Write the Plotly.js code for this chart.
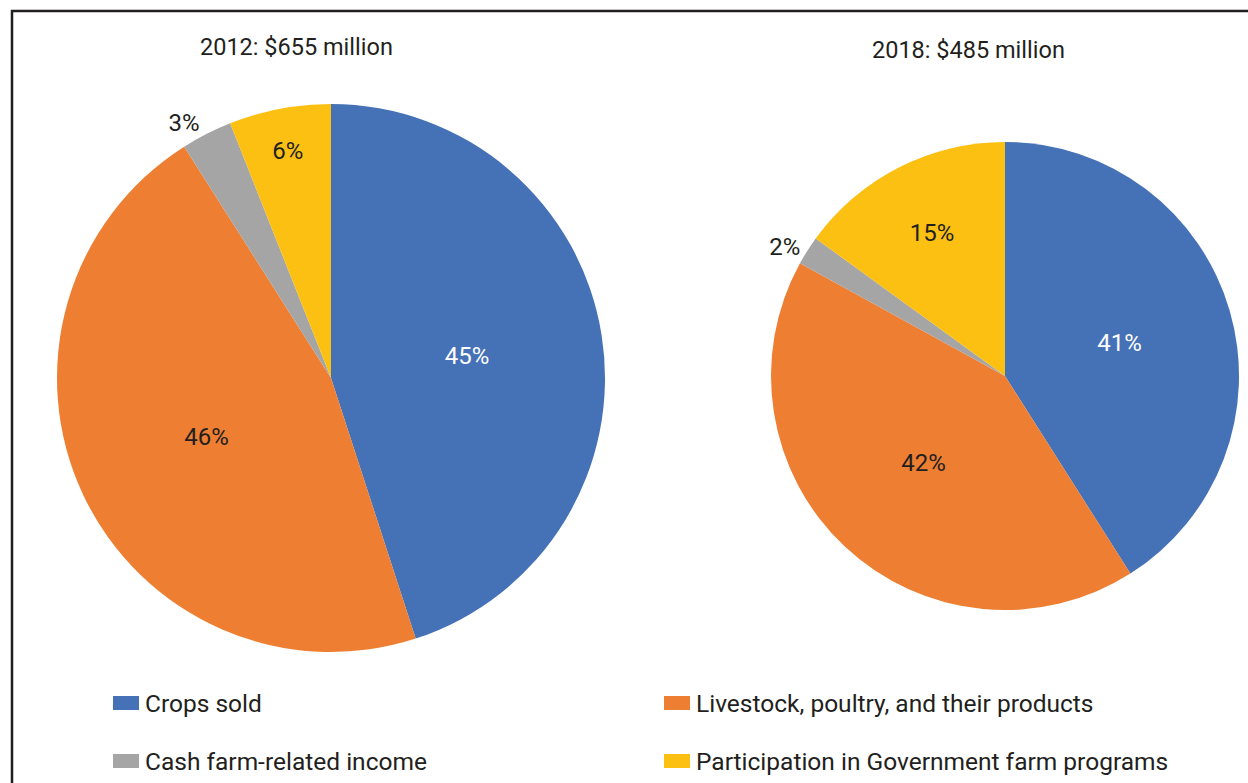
<!DOCTYPE html>
<html>
<head>
<meta charset="utf-8">
<script src="https://cdn.plot.ly/plotly-3.0.1.min.js"></script>
<style>html,body{margin:0;padding:0;background:#fff;}#chart{width:1248px;height:783px;}</style>
</head>
<body>
<div id="chart"></div>
<script>
// ---- data ----
const categories = ["Crops sold", "Livestock, poultry, and their products", "Cash farm-related income", "Participation in Government farm programs"];
const colors = ["#4571b7", "#ee7e31", "#a5a5a5", "#fcc013"];
const values2012 = [45, 46, 3, 6];
const values2018 = [41, 42, 2, 15];
const pieTitles = ["2012: $655 million", "2018: $485 million"];
const textPositions = ["inside", "inside", "outside", "inside"];
const textColors = ["#ffffff", "#231f20", "#231f20", "#231f20"];

const W = 1248, H = 783;
const px = x => x / W;
const py = y => 1 - y / H;
const FONT = "Roboto, 'Noto Sans', Arial, sans-serif";
const DARK = "#231f20";

function pieTrace(vals, cx, cy, r) {
  return {
    type: "pie",
    labels: categories,
    values: vals,
    sort: false,
    direction: "clockwise",
    rotation: 0,
    marker: {colors: colors, line: {width: 0}},
    texttemplate: "%{percent:.0%}",
    textposition: textPositions,
    insidetextorientation: "horizontal",
    textfont: {family: FONT, size: 24, color: textColors},
    outsidetextfont: {family: FONT, size: 24, color: DARK},
    hoverinfo: "label+percent",
    showlegend: false,
    domain: {x: [px(cx - r), px(cx + r)], y: [py(cy + r), py(cy - r)]}
  };
}

const data = [
  pieTrace(values2012, 331, 378, 274),
  pieTrace(values2018, 1005, 376, 234)
];

const annotations = [
  {text: pieTitles[0], x: px(296), y: py(47)},
  {text: pieTitles[1], x: px(968), y: py(50)}
].map(a => Object.assign(a, {xref: "paper", yref: "paper", xanchor: "center", yanchor: "middle", showarrow: false, font: {family: FONT, size: 23.5, color: DARK}}));

// manual legend: 2 columns x 2 rows
const legCols = [113, 664], legRows = [703, 761];
const shapes = [
  {type: "rect", xref: "paper", yref: "paper", x0: px(12), x1: px(1300), y0: py(850), y1: py(11), line: {color: DARK, width: 2.5}, fillcolor: "rgba(0,0,0,0)"}
];
categories.forEach((c, i) => {
  const col = i % 2, row = Math.floor(i / 2);
  const x = legCols[col], y = legRows[row];
  shapes.push({type: "rect", xref: "paper", yref: "paper", x0: px(x), x1: px(x + 26), y0: py(y + 7), y1: py(y - 7), line: {width: 0}, fillcolor: colors[i]});
  annotations.push({text: c, xref: "paper", yref: "paper", x: px(x + 30), y: py(y), xanchor: "left", yanchor: "middle", showarrow: false, font: {family: FONT, size: 24.5, color: DARK}});
});

const layout = {
  width: W, height: H,
  margin: {l: 0, r: 0, t: 0, b: 0},
  paper_bgcolor: "#ffffff",
  showlegend: false,
  annotations: annotations,
  shapes: shapes
};

Plotly.newPlot("chart", data, layout, {displayModeBar: false, staticPlot: true});
</script>
</body>
</html>
